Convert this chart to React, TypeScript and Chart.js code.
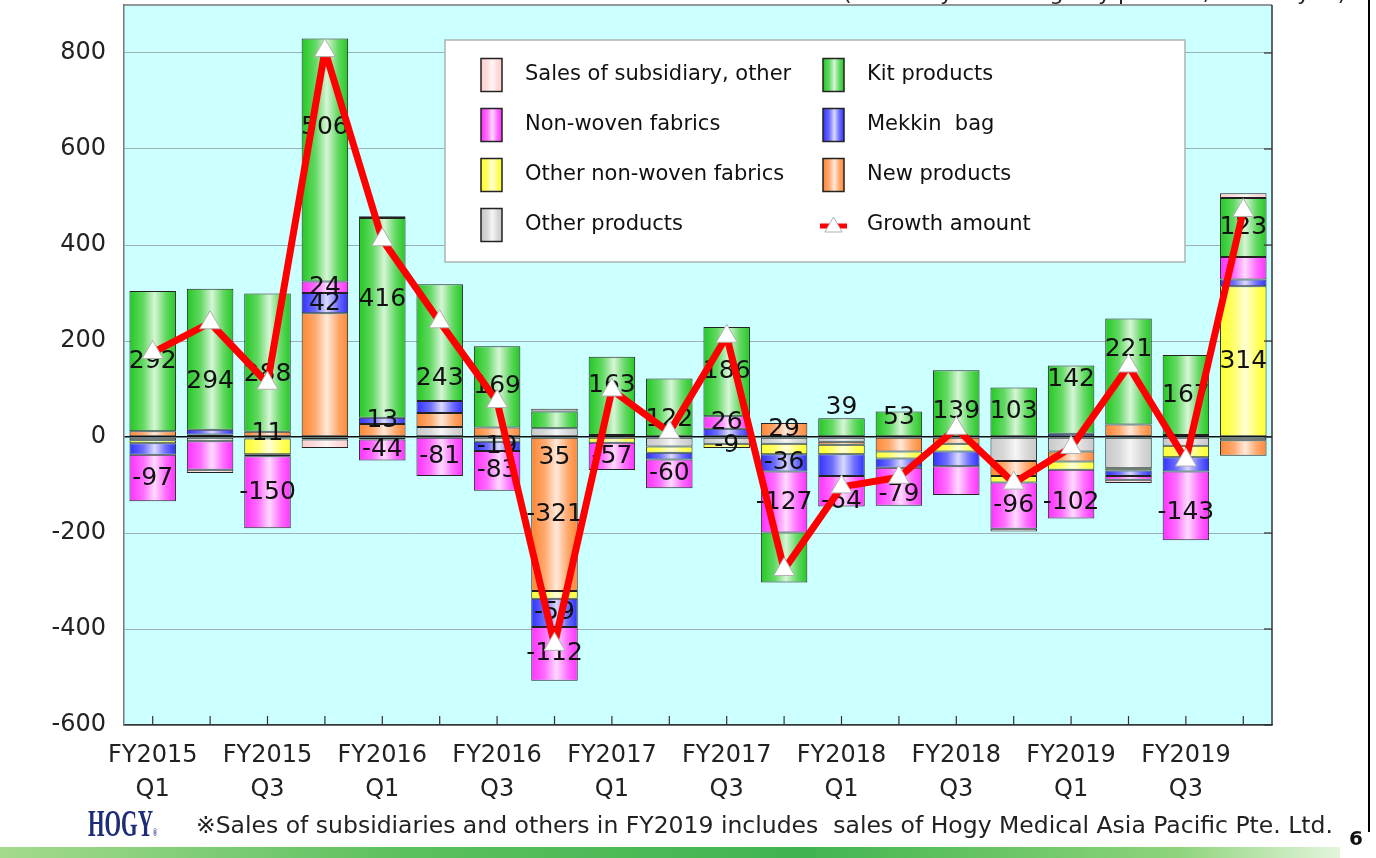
import React, { useEffect, useRef } from 'react';
import { Chart, registerables } from 'chart.js';

Chart.register(...registerables);

// ---------- data ----------
const quarters = [
  'FY2015 Q1', 'FY2015 Q2', 'FY2015 Q3', 'FY2015 Q4',
  'FY2016 Q1', 'FY2016 Q2', 'FY2016 Q3', 'FY2016 Q4',
  'FY2017 Q1', 'FY2017 Q2', 'FY2017 Q3', 'FY2017 Q4',
  'FY2018 Q1', 'FY2018 Q2', 'FY2018 Q3', 'FY2018 Q4',
  'FY2019 Q1', 'FY2019 Q2', 'FY2019 Q3', 'FY2019 Q4',
];

const yTickValues = [-600, -400, -200, 0, 200, 400, 600, 800];

const otherProducts = [-7, -9, -3, -5, 0, 21, -10, 18, 0, -20, -14, -14, -10, 0, 0, -50, -30, -65, -18, -7];
const newProducts = [12, 0, 11, 258, 27, 29, 20, -321, 4, 0, 0, 29, -6, -30, -14, -31, -21, 26, 4, -32];
const otherNonWoven = [-6, 5, -33, 0, -5, 0, 0, -16, -12, -13, -9, -22, -20, -15, -16, -14, -17, -5, -24, 314];
const mekkinBag = [-24, 10, -4, 42, 13, 25, -19, -59, 0, -14, 17, -36, -45, -19, -31, 0, 7, -11, -30, 14];
const nonWoven = [-97, -59, -150, 24, -44, -81, -83, -112, -57, -60, 26, -127, -64, -79, -60, -96, -102, -8, -143, 47];
const kitProducts = [292, 294, 288, 506, 416, 243, 169, 35, 163, 122, 186, -104, 39, 53, 139, 103, 142, 221, 167, 123];
const subsidiary = [0, -7, 0, -18, 4, 0, 0, 6, 0, 0, 0, 0, 0, 0, 0, -6, 0, -7, 0, 10];
const growthAmount = [176, 238, 112, 805, 411, 240, 74, -432, 98, 10, 210, -276, -104, -84, 18, -96, -22, 148, -48, 472];

// value labels shown on the bars
const kitLabels = ['292', '294', '288', '506', '416', '243', '169', '35', '163', '122', '186', null, '39', '53', '139', '103', '142', '221', '167', '123'];
const nonWovenLabels = ['-97', null, '-150', '24', '-44', '-81', '-83', '-112', '-57', '-60', '26', '-127', '-64', '-79', null, '-96', '-102', null, '-143', null];
const newProductsLabels = [null, null, '11', null, null, null, null, '-321', null, null, null, '29', null, null, null, null, null, null, null, null];
const mekkinLabels = [null, null, null, '42', '13', null, '-19', '-59', null, null, null, '-36', null, null, null, null, null, null, null, null];
const otherNonWovenLabels = [null, null, null, null, null, null, null, null, null, null, '-9', null, null, null, null, null, null, null, null, '314'];

// label vertical nudges (pixels): [series key, bar index, dy]
const labelNudges: [string, number, number][] = [
  ['kit', 1, 22], ['kit', 2, 12], ['kit', 3, -33], ['kit', 4, -18], ['kit', 5, 36], ['kit', 7, 38],
  ['kit', 8, -10], ['kit', 9, 12], ['kit', 12, -20], ['kit', 13, -6], ['kit', 14, 8], ['kit', 16, -20], ['kit', 17, -22],
  ['nonWoven', 12, 10], ['nonWoven', 13, 8], ['nonWoven', 16, 8], ['nonWoven', 18, 7],
];

// ---------- styles ----------
const FONT = '"DejaVu Sans", Verdana, sans-serif';
const CAT_PCT = 0.81;

type Series = { key: string; name: string; values: number[]; color: string; labels?: (string | null)[] };

const barSeries: Series[] = [
  { key: 'other', name: 'Other products', values: otherProducts, color: '#c8c8c8' },
  { key: 'new', name: 'New products', values: newProducts, color: '#ff8633', labels: newProductsLabels },
  { key: 'otherNonWoven', name: 'Other non-woven fabrics', values: otherNonWoven, color: '#ffff2a', labels: otherNonWovenLabels },
  { key: 'mekkin', name: 'Mekkin  bag', values: mekkinBag, color: '#3030ff', labels: mekkinLabels },
  { key: 'nonWoven', name: 'Non-woven fabrics', values: nonWoven, color: '#ff30ff', labels: nonWovenLabels },
  { key: 'kit', name: 'Kit products', values: kitProducts, color: '#22c822', labels: kitLabels },
  { key: 'subsidiary', name: 'Sales of subsidiary, other', values: subsidiary, color: '#ffcece' },
];

const legendBox = { left: 445, top: 40, right: 1185, bottom: 262 };
const legendCols = [
  { swatchX: 481, textX: 525, keys: ['subsidiary', 'nonWoven', 'otherNonWoven', 'other'] },
  { swatchX: 823, textX: 867, keys: ['kit', 'mekkin', 'new', 'growth'] },
];
const legendRowY = [75, 125, 175, 225];

function mix(hex: string, t: number) {
  const n = parseInt(hex.slice(1), 16);
  const r = (n >> 16) & 255, g = (n >> 8) & 255, b = n & 255;
  const f = (c: number) => Math.round(c + (255 - c) * t);
  return `rgb(${f(r)},${f(g)},${f(b)})`;
}

function barGradient(ctx: CanvasRenderingContext2D, x0: number, x1: number, color: string) {
  const g = ctx.createLinearGradient(x0, 0, x1, 0);
  g.addColorStop(0, color);
  g.addColorStop(0.3, mix(color, 0.3));
  g.addColorStop(0.54, mix(color, 0.82));
  g.addColorStop(0.78, mix(color, 0.3));
  g.addColorStop(1, color);
  return g;
}

function drawTriangle(ctx: CanvasRenderingContext2D, x: number, y: number, r: number) {
  ctx.beginPath();
  for (let k = 0; k < 3; k++) {
    const a = -Math.PI / 2 + (k * 2 * Math.PI) / 3;
    const px = x + Math.cos(a) * r;
    const py = y + Math.sin(a) * r;
    if (k === 0) ctx.moveTo(px, py); else ctx.lineTo(px, py);
  }
  ctx.closePath();
  ctx.fillStyle = '#ffffff';
  ctx.fill();
  ctx.strokeStyle = '#b0b0b0';
  ctx.lineWidth = 1;
  ctx.stroke();
}

function nudgeFor(key: string, i: number) {
  const n = labelNudges.find((e) => e[0] === key && e[1] === i);
  return n ? n[2] : 0;
}

function drawValueLabels(chart: any) {
  const ctx: CanvasRenderingContext2D = chart.ctx;
  ctx.save();
  ctx.font = `25px ${FONT}`;
  ctx.fillStyle = '#111';
  ctx.textAlign = 'center';
  ctx.textBaseline = 'middle';
  barSeries.forEach((s, di) => {
    if (!s.labels) return;
    const meta = chart.getDatasetMeta(di);
    s.labels.forEach((txt, i) => {
      if (!txt) return;
      const el = meta.data[i];
      if (!el) return;
      const p = el.getProps(['x', 'y', 'base'], true);
      if (!isFinite(p.y) || !isFinite(p.base)) return;
      ctx.fillText(txt, p.x, (p.y + p.base) / 2 + nudgeFor(s.key, i));
    });
  });
  ctx.restore();
}

function drawLegend(ctx: CanvasRenderingContext2D) {
  ctx.save();
  ctx.fillStyle = '#ffffff';
  ctx.fillRect(legendBox.left, legendBox.top, legendBox.right - legendBox.left, legendBox.bottom - legendBox.top);
  ctx.strokeStyle = '#aab4b4';
  ctx.lineWidth = 1.5;
  ctx.strokeRect(legendBox.left, legendBox.top, legendBox.right - legendBox.left, legendBox.bottom - legendBox.top);
  ctx.font = `21px ${FONT}`;
  ctx.textBaseline = 'middle';
  ctx.textAlign = 'left';
  legendCols.forEach((col) => {
    col.keys.forEach((key, r) => {
      const cy = legendRowY[r];
      if (key === 'growth') {
        ctx.strokeStyle = '#ff0000';
        ctx.lineWidth = 5;
        ctx.beginPath();
        ctx.moveTo(col.swatchX - 3, cy + 1);
        ctx.lineTo(col.swatchX + 24, cy + 1);
        ctx.stroke();
        drawTriangle(ctx, col.swatchX + 10.5, cy + 2, 10);
        ctx.fillStyle = '#111';
        ctx.fillText('Growth amount', col.textX, cy);
        return;
      }
      const s = barSeries.find((b) => b.key === key)!;
      const w = 21, h = 33;
      ctx.fillStyle = barGradient(ctx, col.swatchX, col.swatchX + w, s.color);
      ctx.fillRect(col.swatchX, cy - h / 2, w, h);
      ctx.strokeStyle = '#222';
      ctx.lineWidth = 1.5;
      ctx.strokeRect(col.swatchX, cy - h / 2, w, h);
      ctx.fillStyle = '#111';
      ctx.fillText(s.name, col.textX, cy);
    });
  });
  ctx.restore();
}

const decorPlugin = {
  id: 'decor',
  beforeDraw(chart: any) {
    const { ctx, chartArea: a } = chart;
    ctx.save();
    ctx.fillStyle = '#ccffff';
    ctx.fillRect(a.left, a.top, a.right - a.left, a.bottom - a.top);
    ctx.restore();
  },
  beforeDatasetDraw(chart: any, args: any) {
    if (args.meta.type === 'line') drawValueLabels(chart);
  },
  afterDraw(chart: any) {
    const { ctx, chartArea: a, scales } = chart;
    ctx.save();
    // top and right plot border
    ctx.strokeStyle = '#777';
    ctx.lineWidth = 1.5;
    ctx.beginPath();
    ctx.moveTo(a.left, a.top);
    ctx.lineTo(a.right, a.top);
    ctx.stroke();
    ctx.strokeStyle = '#333';
    ctx.beginPath();
    ctx.moveTo(a.right, a.top);
    ctx.lineTo(a.right, a.bottom);
    ctx.stroke();
    // inward tick marks
    ctx.lineWidth = 1.2;
    ctx.strokeStyle = '#333';
    quarters.forEach((_, i) => {
      const x = scales.x.getPixelForValue(i);
      ctx.beginPath();
      ctx.moveTo(x, a.bottom);
      ctx.lineTo(x, a.bottom - 9);
      ctx.stroke();
    });
    yTickValues.forEach((v) => {
      const y = scales.y.getPixelForValue(v);
      ctx.beginPath();
      ctx.moveTo(a.right - 8, y);
      ctx.lineTo(a.right, y);
      ctx.stroke();
    });
    ctx.restore();
    drawLegend(ctx);
  },
};

export default function App() {
  const ref = useRef<HTMLCanvasElement>(null);

  useEffect(() => {
    const canvas = ref.current;
    if (!canvas) return;
    const barDatasets = barSeries.map((s) => ({
      type: 'bar' as const,
      label: s.name,
      data: s.values.map((v) => (v === 0 ? null : v)),
      order: 1,
      stack: 'products',
      categoryPercentage: CAT_PCT,
      barPercentage: 1,
      borderColor: '#222',
      borderWidth: 1,
      borderSkipped: false,
      backgroundColor: (c: any) => {
        const chart = c.chart;
        const xs = chart.scales && chart.scales.x;
        if (!xs || c.dataIndex == null || !chart.chartArea) return s.color;
        const cx = xs.getPixelForValue(c.dataIndex);
        const w = (xs.width / quarters.length) * CAT_PCT;
        return barGradient(chart.ctx, cx - w / 2, cx + w / 2, s.color);
      },
    }));
    const lineDataset = {
      type: 'line' as const,
      label: 'Growth amount',
      data: growthAmount,
      order: 0,
      stack: 'growth',
      borderColor: '#ff0000',
      borderWidth: 7,
      borderJoinStyle: 'round' as const,
      pointStyle: 'triangle',
      pointRadius: 12,
      pointBackgroundColor: '#ffffff',
      pointBorderColor: '#b0b0b0',
      pointBorderWidth: 1,
      tension: 0,
      clip: false as any,
    };

    const chart = new Chart(canvas, {
      type: 'bar',
      data: { labels: quarters, datasets: [...barDatasets, lineDataset] as any },
      options: {
        responsive: false,
        animation: false,
        devicePixelRatio: 1,
        layout: { autoPadding: false, padding: { left: 0, top: 5, right: 104, bottom: 0 } },
        plugins: { legend: { display: false }, tooltip: { enabled: false } },
        scales: {
          x: {
            stacked: true,
            grid: { display: false, drawTicks: false },
            border: { display: true, color: '#333', width: 1.5 },
            ticks: {
              autoSkip: false,
              maxRotation: 0,
              minRotation: 0,
              padding: 14,
              color: '#222',
              font: { family: FONT, size: 24, lineHeight: 1.4 },
              callback: (_v: any, i: number) => (i % 2 === 0 ? quarters[i].split(' ') : ''),
            },
            afterFit: (s: any) => { s.height = 133; s.paddingLeft = 0; s.paddingRight = 0; },
          },
          y: {
            stacked: true,
            min: -600,
            max: 900,
            afterBuildTicks: (s: any) => { s.ticks = yTickValues.map((v) => ({ value: v })); },
            afterFit: (s: any) => { s.width = 124; s.paddingTop = 0; s.paddingBottom = 0; },
            ticks: { stepSize: 200, padding: 18, color: '#222', font: { family: FONT, size: 24 } },
            grid: {
              drawTicks: false,
              color: (c: any) => (c.tick && c.tick.value === 0 ? '#111' : '#9cb0b0'),
              lineWidth: (c: any) => (c.tick && c.tick.value === 0 ? 1.5 : 1),
            },
            border: { display: true, color: '#777', width: 1.5 },
          },
        },
      } as any,
      plugins: [decorPlugin],
    });
    return () => chart.destroy();
  }, []);

  return (
    <div style={{ position: 'absolute', left: 0, top: 0, width: 1376, height: 858, overflow: 'hidden', background: '#fff', fontFamily: FONT }}>
      <canvas ref={ref} width={1376} height={858} style={{ position: 'absolute', left: 0, top: 0 }} />
      <div style={{ position: 'absolute', right: 30, top: -20, fontSize: 22, color: '#222', whiteSpace: 'nowrap' }}>
        (Year-on-year change by product, million yen)
      </div>
      <div style={{ position: 'absolute', left: 1368, top: 0, width: 2, height: 832, background: '#000' }} />
      <div style={{ position: 'absolute', left: 88, top: 804, fontFamily: '"Liberation Serif", serif', fontWeight: 'bold', fontSize: 38, lineHeight: 1, color: '#1d2d78', transform: 'scaleX(0.56)', transformOrigin: 'left top', whiteSpace: 'nowrap' }}>
        HOGY<span style={{ fontSize: 10 }}>®</span>
      </div>
      <div style={{ position: 'absolute', left: 196, top: 811, fontSize: 23.5, color: '#222', whiteSpace: 'pre', fontFamily: '"DejaVu Sans", "Noto Sans CJK JP", sans-serif' }}>
        ※Sales of subsidiaries and others in FY2019 includes  sales of Hogy Medical Asia Pacific Pte. Ltd.
      </div>
      <div style={{ position: 'absolute', left: 1349, top: 826, fontSize: 20, fontWeight: 'bold', color: '#111' }}>6</div>
      <div style={{ position: 'absolute', left: 0, top: 847, width: 1340, height: 11, background: 'linear-gradient(to right, #a4da8c 0%, #5cc060 30%, #40b450 60%, #8fd47c 88%, #e4f5dc 100%)' }} />
    </div>
  );
}
